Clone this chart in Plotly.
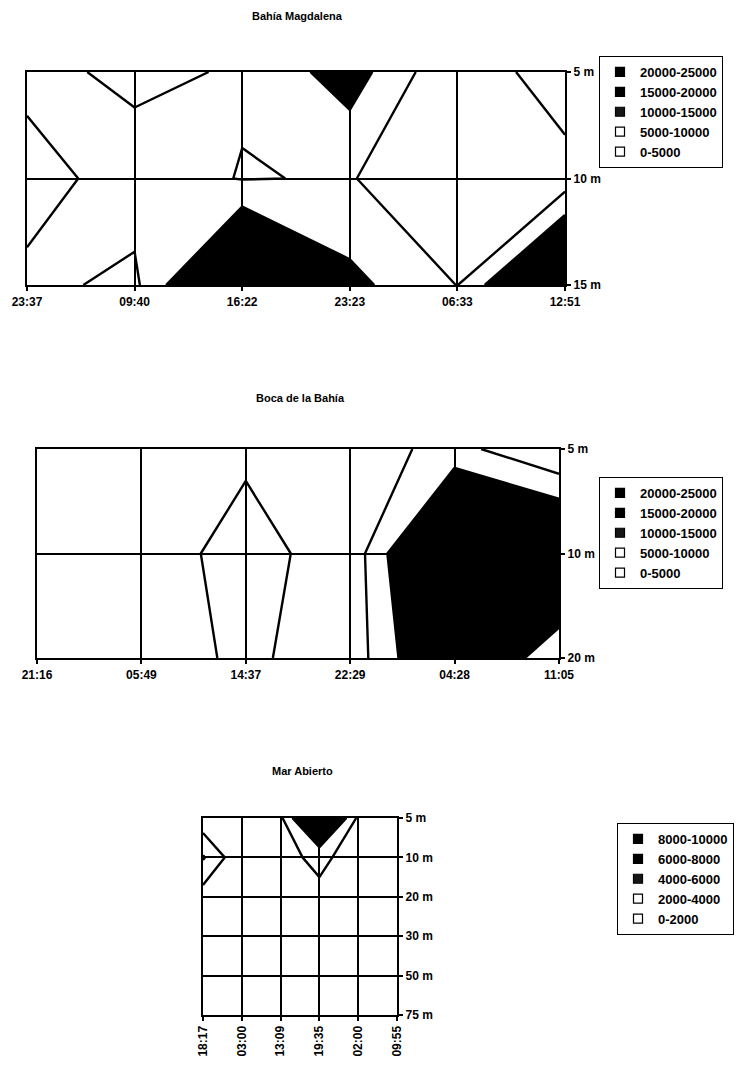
import plotly.graph_objects as go

# ---------------- Bahía Magdalena ----------------
bm_times = ["23:37", "09:40", "16:22", "23:23", "06:33", "12:51"]
bm_depths = ["5 m", "10 m", "15 m"]
bm_5m = [6400, 3900, 5500, 12600, 200, 9000]
bm_10m = [3000, 7200, 4800, 5300, 700, 2200]
bm_15m = [6100, 4000, 24500, 11500, 4900, 25000]
bm_bands = ["20000-25000", "15000-20000", "10000-15000", "5000-10000", "0-5000"]

# ---------------- Boca de la Bahía ----------------
bb_times = ["21:16", "05:49", "14:37", "22:29", "04:28", "11:05"]
bb_depths = ["5 m", "10 m", "20 m"]
bb_5m = [1500, 2000, 3900, 2500, 6700, 0]
bb_10m = [1500, 1700, 7500, 1700, 25000, 21000]
bb_20m = [1800, 2200, 6050, 2000, 19300, 5500]
bb_bands = ["20000-25000", "15000-20000", "10000-15000", "5000-10000", "0-5000"]

# ---------------- Mar Abierto ----------------
ma_times = ["18:17", "03:00", "13:09", "19:35", "02:00", "09:55"]
ma_depths = ["5 m", "10 m", "20 m", "30 m", "50 m", "75 m"]
ma_5m = [650, 900, 1600, 9500, 1600, 800]
ma_10m = [4200, 270, 1870, 2100, 1800, 600]
ma_20m = [1050, 500, 700, 1900, 900, 400]
ma_30m = [600, 400, 500, 800, 600, 300]
ma_50m = [400, 300, 300, 500, 400, 200]
ma_75m = [200, 200, 150, 300, 200, 100]
ma_bands = ["8000-10000", "6000-8000", "4000-6000", "2000-4000", "0-2000"]

W, H = 756, 1065
FONT = "Liberation Sans, Arial, sans-serif"

# band fills, lowest band first (the two light bands stay see-through so the grid shows)
CLEAR = "rgba(255,255,255,0)"
band_fill = [CLEAR, CLEAR, "#000000", "#000000", "#000000"]
# legend keys, listed top (highest band) to bottom
key_fill = ["#000000", "#000000", "#161616", "#ffffff", "#ffffff"]


def step_scale(colors):
    """Piecewise-constant colorscale: one flat colour per contour band."""
    n = len(colors)
    scale = []
    for k, c in enumerate(colors):
        lo = max(0.0, (k - 0.5) / (n - 1))
        hi = min(1.0, (k + 0.5) / (n - 1))
        scale.append([lo, c])
        scale.append([hi, c])
    return scale


def fx(px):
    return px / W


def fy(px):
    return 1 - px / H


panels = [
    dict(times=bm_times, depths=bm_depths, z=[bm_5m, bm_10m, bm_15m], bands=bm_bands,
         start=5000, size=5000, box=(27, 565, 72, 285), legend="legend",
         leg=(599, 56), title="Bahía Magdalena", title_xy=(297, 16), angle=0),
    dict(times=bb_times, depths=bb_depths, z=[bb_5m, bb_10m, bb_20m], bands=bb_bands,
         start=5000, size=5000, box=(37, 559, 449, 658), legend="legend2",
         leg=(599, 477), title="Boca de la Bahía", title_xy=(300, 398), angle=0),
    dict(times=ma_times, depths=ma_depths, z=[ma_5m, ma_10m, ma_20m, ma_30m, ma_50m, ma_75m],
         bands=ma_bands, start=2000, size=2000, box=(203, 397, 818, 1015), legend="legend3",
         leg=(617, 823), title="Mar Abierto", title_xy=(302, 771), angle=-90),
]

fig = go.Figure()
layout = dict(
    width=W, height=H, autosize=False,
    margin=dict(l=0, r=0, t=0, b=0, autoexpand=False),
    paper_bgcolor="white", plot_bgcolor="white",
    font=dict(family=FONT, size=12, color="black", weight="bold"),
    showlegend=True,
    annotations=[],
)

for i, p in enumerate(panels, start=1):
    xa = "x" if i == 1 else f"x{i}"
    ya = "y" if i == 1 else f"y{i}"
    ncol = len(p["times"])
    nrow = len(p["depths"])
    xs = list(range(ncol))
    ys = list(range(nrow))

    fig.add_trace(go.Contour(
        z=p["z"], x=xs, y=ys, xaxis=xa, yaxis=ya,
        autocontour=False,
        contours=dict(start=p["start"], end=p["start"] + 3 * p["size"], size=p["size"],
                      coloring="fill", showlines=True),
        line=dict(color="black", width=2.4, smoothing=0),
        colorscale=step_scale(band_fill),
        showscale=False, hoverinfo="skip", showlegend=False,
    ))

    for name, col in zip(p["bands"], key_fill):
        fig.add_trace(go.Scatter(
            x=[None], y=[None], xaxis=xa, yaxis=ya, mode="markers", name=name,
            marker=dict(symbol="square", size=9, color=col, line=dict(color="black", width=1.2)),
            legend=p["legend"], hoverinfo="skip",
        ))

    x0, x1, y0, y1 = p["box"]
    axis_common = dict(
        showgrid=True, gridcolor="black", gridwidth=2,
        showline=True, linecolor="black", linewidth=2.2, mirror=True,
        ticks="outside", ticklen=4, tickwidth=1.5, tickcolor="black",
        zeroline=False, fixedrange=True, automargin=False,
        tickfont=dict(family=FONT, size=12, color="black", weight="bold"),
    )
    layout["xaxis" if i == 1 else f"xaxis{i}"] = dict(
        axis_common, domain=[fx(x0), fx(x1)], range=[0, ncol - 1],
        tickvals=xs, ticktext=p["times"], tickangle=p["angle"],
        anchor=ya, side="bottom",
    )
    layout["yaxis" if i == 1 else f"yaxis{i}"] = dict(
        axis_common, domain=[fy(y1), fy(y0)], range=[nrow - 1, 0],
        tickvals=ys, ticktext=p["depths"], anchor=xa, side="right",
    )
    layout[p["legend"]] = dict(
        x=fx(p["leg"][0]), y=fy(p["leg"][1]), xanchor="left", yanchor="top",
        bordercolor="black", borderwidth=1, bgcolor="white",
        font=dict(family=FONT, size=13, color="black", weight="bold"),
        tracegroupgap=0, itemclick=False, itemdoubleclick=False,
    )
    layout["annotations"].append(dict(
        text=p["title"], x=fx(p["title_xy"][0]), y=fy(p["title_xy"][1]),
        xref="paper", yref="paper", xanchor="center", yanchor="middle",
        showarrow=False, font=dict(family=FONT, size=11, color="black", weight="bold"),
    ))

fig.update_layout(**layout)
fig.write_html("out.html")
